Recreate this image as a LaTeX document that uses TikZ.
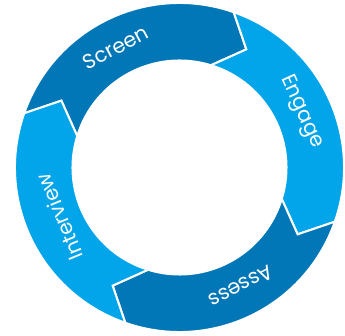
\documentclass[tikz,border=0pt]{standalone}
\usepackage{fontspec}
\setmainfont{Poppins}
\definecolor{ringdark}{RGB}{2,119,183}
\definecolor{ringlight}{RGB}{2,165,233}

\begin{document}
\begin{tikzpicture}[x=1pt,y=1pt,
    seg/.style={draw=white, line width=2pt, line join=miter},
    lbl/.style={text=white, font=\fontsize{20.5}{20.5}\selectfont, inner sep=0pt}]
            \useasboundingbox (-179.5,-168.5) rectangle (165.5,167.5);

            % Screen
            \filldraw[seg, fill=ringdark] (160.75:164.5pt) arc[start angle=160.75, end angle=70.75, radius=164.5pt]
                -- (60.5:135.75pt) -- (72.9:107pt) arc[start angle=72.9, end angle=162.9, radius=107pt]
                -- (150.5:135.75pt) -- cycle;
            % Engage
            \filldraw[seg, fill=ringlight] (70.75:164.5pt) arc[start angle=70.75, end angle=-19.25, radius=164.5pt]
                -- (-29.5:135.75pt) -- (-17.1:107pt) arc[start angle=-17.1, end angle=72.9, radius=107pt]
                -- (60.5:135.75pt) -- cycle;
            % Assess
            \filldraw[seg, fill=ringdark] (-19.25:164.5pt) arc[start angle=-19.25, end angle=-109.25, radius=164.5pt]
                -- (-119.5:135.75pt) -- (-107.1:107pt) arc[start angle=-107.1, end angle=-17.1, radius=107pt]
                -- (-29.5:135.75pt) -- cycle;
            % Interview
            \filldraw[seg, fill=ringlight] (-109.25:164.5pt) arc[start angle=-109.25, end angle=-199.25, radius=164.5pt]
                -- (150.5:135.75pt) -- (162.9:107pt) arc[start angle=162.9, end angle=252.9, radius=107pt]
                -- (-119.5:135.75pt) -- cycle;

            \node[lbl, rotate=28] (screen) at (118:136pt) {Screen};
            \node[lbl, rotate=-65.5] (engage) at (24.5:134pt) {Engage};
            \node[lbl, rotate=-152.6] (assess) at (-62.6:134pt) {Assess};
            \node[lbl, rotate=112.4] (interview) at (-157.6:130pt) {Interview};
        \end{tikzpicture}
\end{document}
